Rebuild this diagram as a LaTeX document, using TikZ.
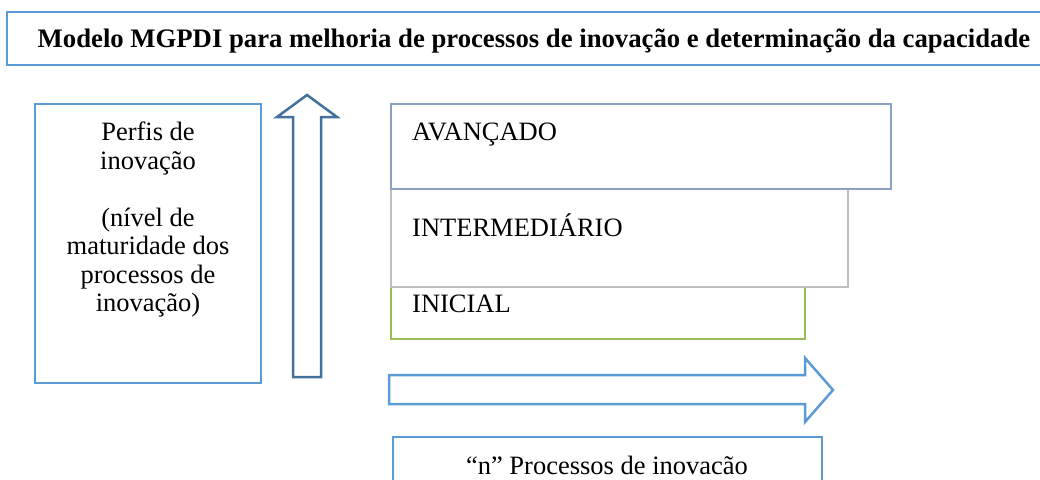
\documentclass[tikz,border=0pt]{standalone}
\usepackage{fontspec}
\setmainfont{Liberation Serif}
\definecolor{boxblue}{RGB}{91,155,213}
\definecolor{arrowdark}{RGB}{65,113,156}
\definecolor{avborder}{RGB}{140,160,195}
\definecolor{intgrey}{RGB}{191,191,191}
\definecolor{inigreen}{RGB}{155,187,89}
\begin{document}
\begin{tikzpicture}[x=1pt,y=-1pt,
  txt/.style={font=\fontsize{26.5}{28.5}\selectfont, inner sep=0pt},
  ttl/.style={font=\fontsize{26.7}{28}\selectfont\bfseries, inner sep=0pt},
  bluebox/.style={draw=boxblue, line width=2.5pt},
  levelbox/.style={fill=white, line width=1.5pt}]
\useasboundingbox (0,0) rectangle (1040,479);
\clip (0,0) rectangle (1040,479);
% title
\draw[bluebox] (7,12) rectangle (1070,65);
\node[ttl, anchor=base] (title) at (534,47) {Modelo MGPDI para melhoria de processos de inovação e determinação da capacidade};
% left box
\draw[bluebox, line width=2pt] (35,104) rectangle (261,383);
\node[txt, anchor=north, align=center] (perfis) at (148,122)
  {Perfis de\\inovação\\[28.5pt](nível de\\maturidade dos\\processos de\\inovação)};
% up arrow
\draw[draw=arrowdark, line width=2.5pt, line join=miter]
  (293,377) -- (293,117) -- (277,117) -- (307,95) -- (337,117) -- (321,117) -- (321,377) -- cycle;
% level boxes
\draw[levelbox, draw=inigreen] (391,280) rectangle (805,339);
\draw[levelbox, draw=intgrey] (391,180) rectangle (848,287);
\draw[levelbox, draw=avborder] (391,104) rectangle (891,189);
\node[txt, anchor=base west] (av) at (412,140.7) {AVANÇADO};
\node[txt, anchor=base west] (int) at (412,236.7) {INTERMEDIÁRIO};
\node[txt, anchor=base west] (ini) at (412,312.7) {INICIAL};
% right arrow
\draw[draw=boxblue, line width=2.5pt, line join=miter]
  (389,375) -- (805,375) -- (805,358) -- (833,390) -- (805,422) -- (805,404) -- (389,404) -- cycle;
% bottom box
\draw[bluebox] (393,437) rectangle (822,510);
\node[txt, anchor=base] (proc) at (607,474) {“n” Processos de inovacão};
\end{tikzpicture}
\end{document}
